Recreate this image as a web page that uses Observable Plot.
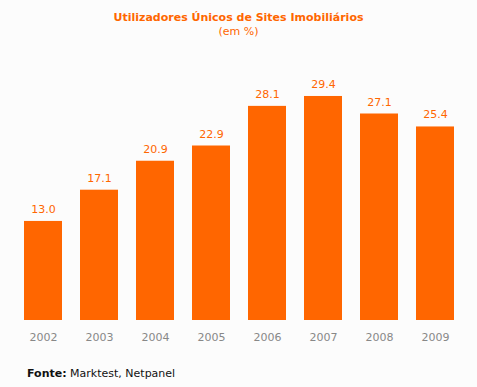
<!DOCTYPE html>
<html>
<head>
<meta charset="utf-8">
<script src="https://cdn.jsdelivr.net/npm/d3@7"></script>
<script src="https://cdn.jsdelivr.net/npm/@observablehq/plot@0.6"></script>
<style>
  html, body { margin: 0; padding: 0; background: #fcfcfc; }
  body { width: 477px; height: 387px; overflow: hidden; font-family: "DejaVu Sans", Verdana, sans-serif; }
  .title { text-align: center; color: #ff6600; font-weight: bold; font-size: 11px; line-height: 14px; padding-top: 11px; }
  .subtitle { text-align: center; color: #ff6600; font-size: 11px; line-height: 14px; }
  .footer { font-size: 11px; line-height: 14px; color: #111; padding-left: 27px; margin-top: 13px; }
  svg { display: block; }
</style>
</head>
<body>
<div class="title">Utilizadores Únicos de Sites Imobiliários</div>
<div class="subtitle">(em %)</div>
<div id="chart"></div>
<div class="footer"><b>Fonte:</b> Marktest, Netpanel</div>
<script>
const years = ["2002", "2003", "2004", "2005", "2006", "2007", "2008", "2009"];
const values = [13.0, 17.1, 20.9, 22.9, 28.1, 29.4, 27.1, 25.4];

const data = years.map((y, i) => ({year: y, value: values[i]}));

const chart = Plot.plot({
  width: 477,
  height: 315,
  marginLeft: 4,
  marginRight: 4,
  marginTop: 52.4,
  marginBottom: 34,
  style: {background: "#fcfcfc", fontFamily: "DejaVu Sans, Verdana, sans-serif", fontSize: "11px"},
  x: {domain: years, padding: 0.326, label: null, tickSize: 0, tickPadding: 13},
  y: {domain: [0, 30], axis: null},
  marks: [
    Plot.barY(data, {x: "year", y: "value", fill: "#ff6600"}),
    Plot.text(data, {x: "year", y: "value", text: d => d.value.toFixed(1), dy: -12, fill: "#ff6600", fontSize: 11}),
    Plot.axisX({tickSize: 0, tickPadding: 13, color: "#888", fontSize: 11, label: null})
  ]
});
document.getElementById("chart").appendChild(chart);
</script>
</body>
</html>
